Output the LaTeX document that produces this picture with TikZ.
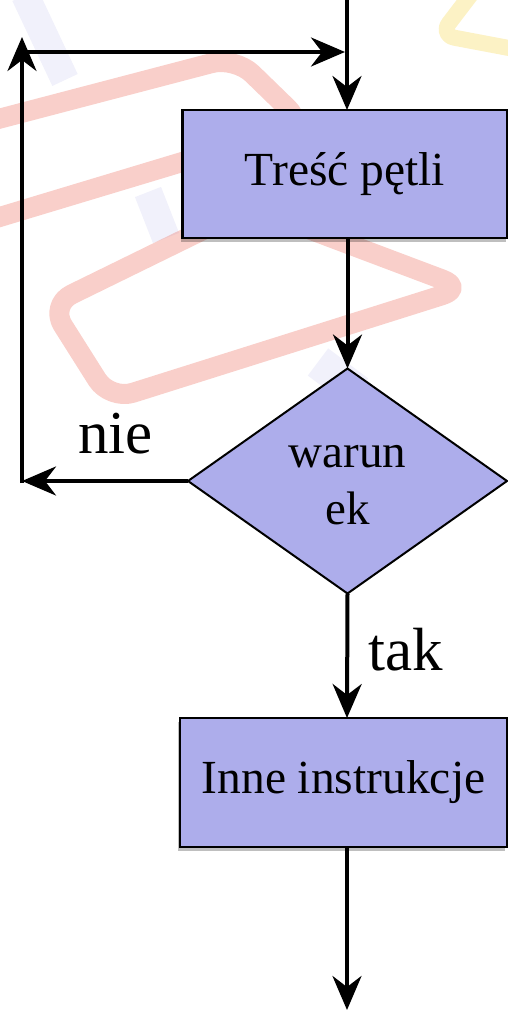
\documentclass[tikz,border=0pt]{standalone}
\usepackage{fontspec}
\setmainfont{Liberation Serif}
\usetikzlibrary{arrows.meta,shapes.geometric,shadows}
\definecolor{boxfill}{RGB}{173,173,235}
\definecolor{wmred}{RGB}{236,110,95}
\definecolor{wmyellow}{RGB}{245,215,80}
\definecolor{wmblue}{RGB}{190,190,235}
\begin{document}
\begin{tikzpicture}[x=1pt,y=-1pt,
  conn/.style={line width=4pt, -{Stealth[length=34pt,width=29pt,inset=11pt]}},
  procbox/.style={draw, line width=2.5pt, fill=boxfill, rectangle, inner sep=0pt, outer sep=0pt,
    font=\fontsize{47.5}{57}\selectfont,
    drop shadow={shadow xshift=-2pt, shadow yshift=-4pt, opacity=0.25, fill=black}},
  decbox/.style={draw, line width=2pt, fill=boxfill, diamond, inner sep=0pt, outer sep=0pt,
    align=center, font=\fontsize{47}{57}\selectfont},
  lbl/.style={font=\fontsize{61}{70}\selectfont, anchor=base, inner sep=0pt},
  wm/.style={line width=20pt, opacity=0.33, rounded corners=24pt, line join=round},
  wmb/.style={line width=28pt, opacity=0.22, wmblue}
]
\useasboundingbox (0,0) rectangle (508,1011);
% faint background picture
\begin{scope}
  \clip (0,0) rectangle (508,1011);
  \draw[wmb] (25,-5) -- (65,80);
  \draw[wmb] (148,192) -- (166,238);
  \draw[wmb, line width=34pt] (318,362) -- (358,392);
  \draw[wm, wmred] (-120,150) -- (235,57) -- (305,125) -- (-60,235) -- cycle;
  \draw[wm, wmred] (50,305) -- (250,207) -- (465,288) -- (110,400) -- cycle;
  \draw[wm, wmyellow, line width=16pt, rounded corners=15pt] (482,-20) -- (440,35) -- (530,52);
\end{scope}
% nodes
\node[procbox, minimum width=325pt, minimum height=128pt] (body) at (345,174) {Treść pętli};
\node[decbox, minimum width=319pt, minimum height=225pt] (cond) at (347.5,481) {\rule{0pt}{31pt}warun\\ek};
\node[procbox, minimum width=327pt, minimum height=129pt] (other) at (343.5,782.5) {Inne instrukcje};
\node[lbl] (nie) at (115.5,453) {nie};
\node[lbl] (tak) at (405.5,670) {tak};
% coordinates
\coordinate (top) at (347,0);
\coordinate (loopbot) at (22,481);
\coordinate (loopbotx) at (22,483);
\coordinate (looptop) at (22,37);
\coordinate (loopstart) at (22,52);
\coordinate (loopend) at (345,52);
\coordinate (endpt) at (347,1010);
% connectors
\draw[conn] (top) -- (top |- body.north);
\draw[conn] (cond.north |- body.south) -- (cond.north);
\draw[conn] (cond.south) -- (endpt |- other.north);
\draw[conn] (endpt |- other.south) -- (endpt);
\draw[conn] (cond.west) -- (loopbot);
\draw[conn] (loopbotx) -- (looptop);
\draw[conn] (loopstart) -- (loopend);
\end{tikzpicture}
\end{document}
